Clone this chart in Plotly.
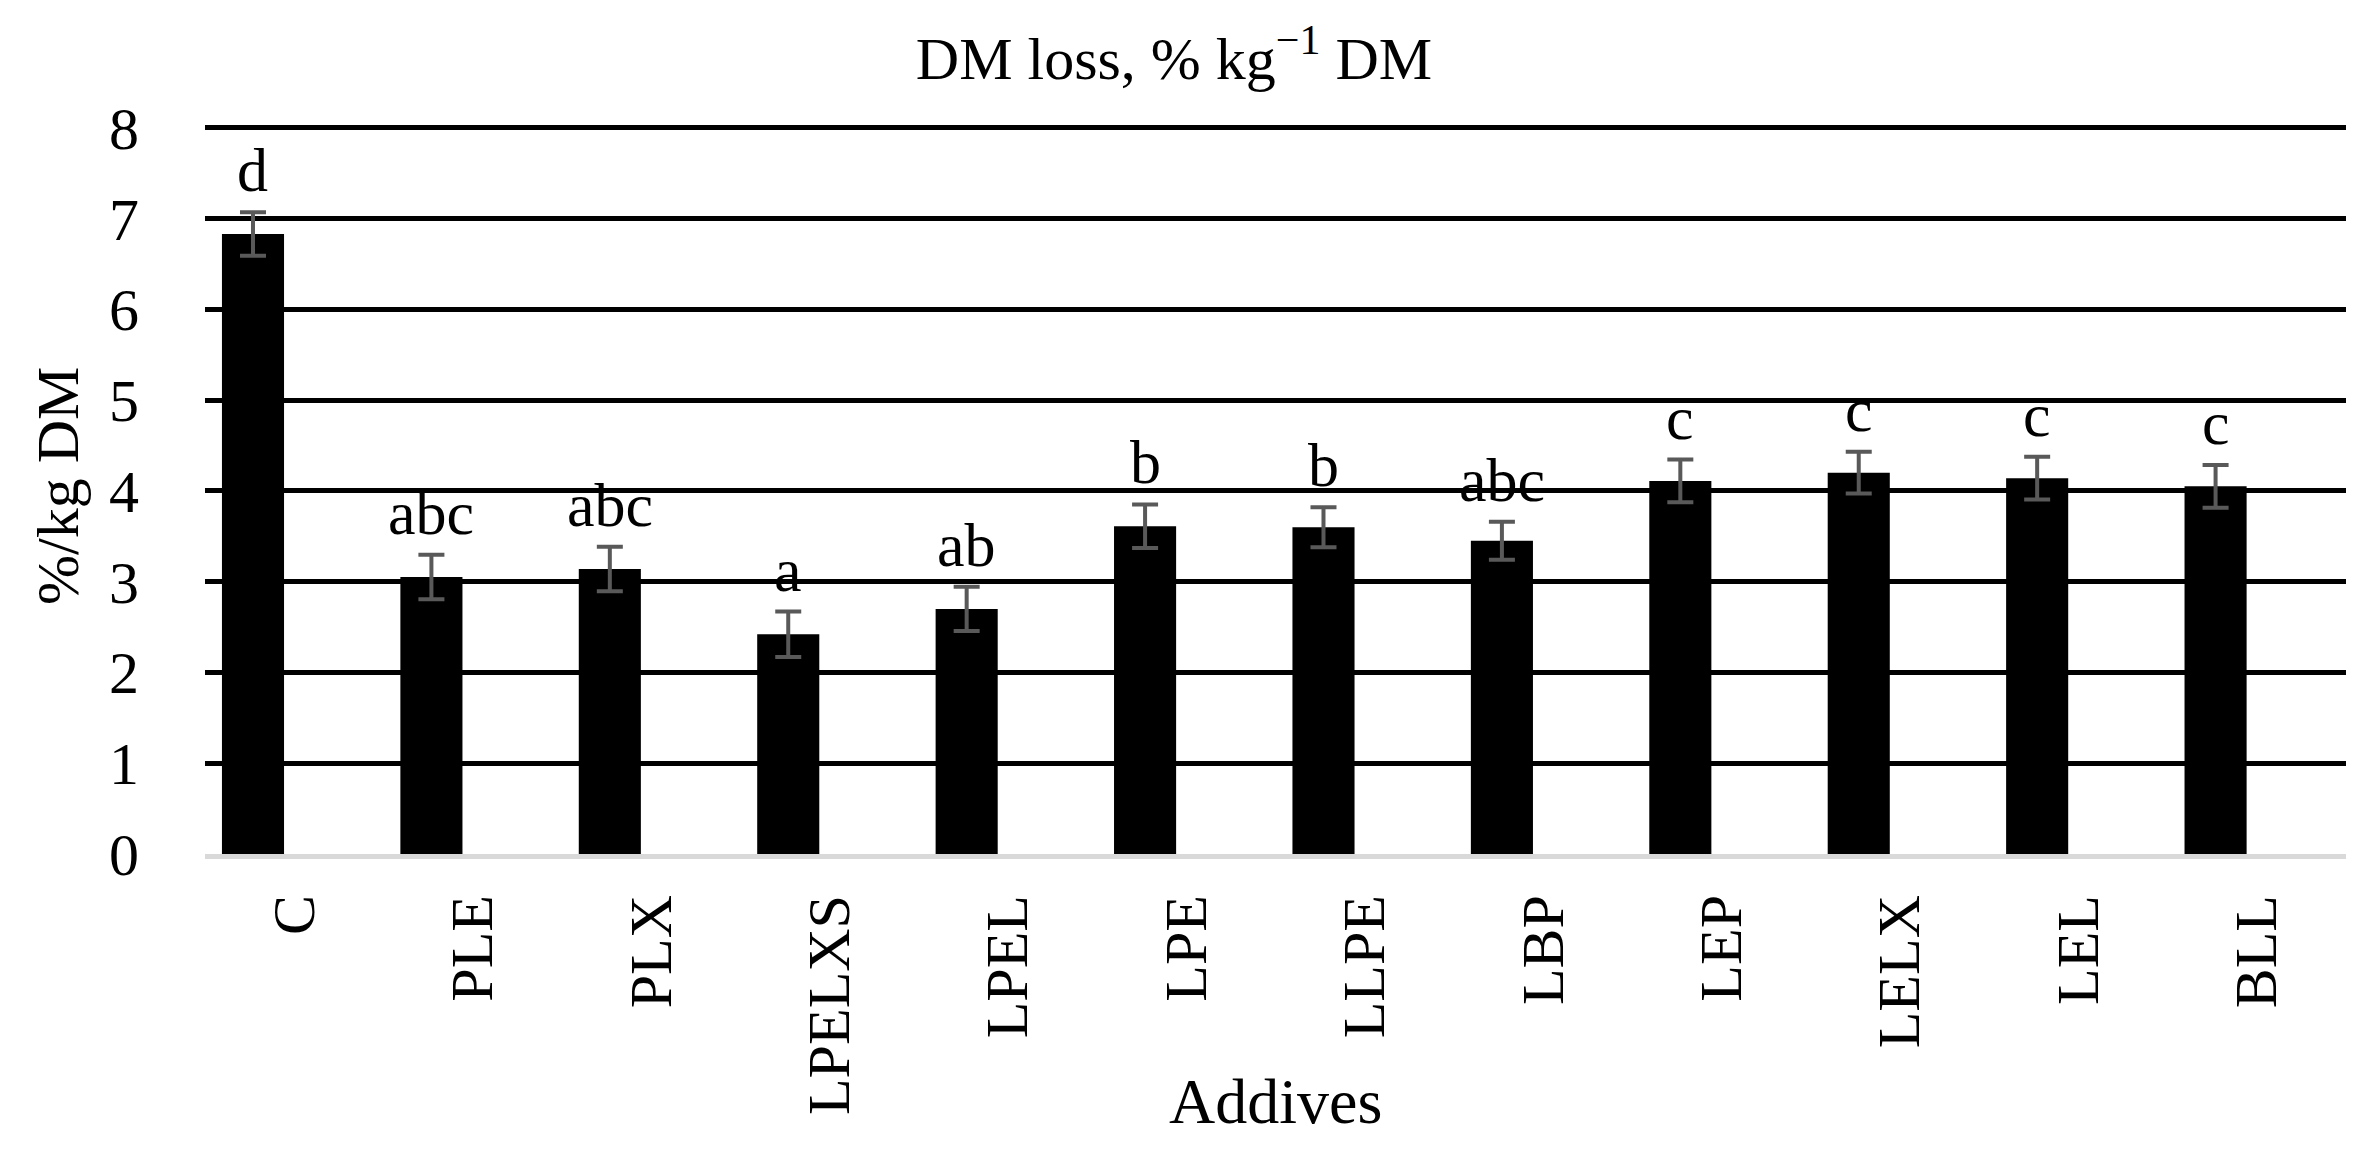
import plotly.graph_objects as go

categories = ["C", "PLE", "PLX", "LPELXS", "LPEL", "LPE", "LLPE", "LBP", "LEP", "LELX", "LEL", "BLL"]
dm_loss = [6.83, 3.05, 3.14, 2.42, 2.70, 3.61, 3.60, 3.45, 4.11, 4.20, 4.14, 4.05]
dm_err = [0.24, 0.245, 0.245, 0.25, 0.245, 0.24, 0.22, 0.21, 0.235, 0.23, 0.235, 0.235]
letters = ["d", "abc", "abc", "a", "ab", "b", "b", "abc", "c", "c", "c", "c"]
y_ticks = [0, 1, 2, 3, 4, 5, 6, 7, 8]

W, H = 2370, 1168
px_per_unit = 90.9
y_top = 8.03
L, R = 197, 32
B = 1168 - 846.5
T = 846.5 - y_top * px_per_unit
plot_w = W - L - R
plot_h = H - T - B
cat_px = plot_w / len(categories)
bar_shift = -0.231  # fraction of category
bar_w = 0.348

FONT = "Liberation Serif"

fig = go.Figure()
fig.add_trace(go.Bar(
    x=categories, y=dm_loss,
    marker=dict(color="black", line=dict(width=0)),
    width=bar_w, offset=bar_shift - bar_w / 2,
    error_y=dict(type="data", array=dm_err, visible=True,
                 color="#595959", thickness=4, width=13),
    showlegend=False,
))

annotations = []
for c, v, e, t in zip(categories, dm_loss, dm_err, letters):
    annotations.append(dict(
        x=c, y=v + e, xref="x", yref="y", text=t, showarrow=False,
        xanchor="center", yanchor="bottom", xshift=bar_shift * cat_px, yshift=6,
        font=dict(family=FONT, size=62, color="black"),
    ))

annotations.append(dict(
    text="Addives", xref="paper", yref="paper", x=0.5, y=(T + plot_h - 1094) / plot_h,
    xanchor="center", yanchor="middle", showarrow=False,
    font=dict(family=FONT, size=64, color="black"),
))
annotations.append(dict(
    text="%/kg DM", xref="paper", yref="paper", x=(50 - L) / plot_w,
    y=(T + plot_h - 478) / plot_h,
    xanchor="center", yanchor="middle", showarrow=False, textangle=-90,
    font=dict(family=FONT, size=60, color="black"),
))

fig.update_layout(
    width=W, height=H,
    margin=dict(l=L, r=R, t=T, b=B, autoexpand=False),
    paper_bgcolor="white", plot_bgcolor="white",
    title=dict(text="DM loss, % kg<sup>−1</sup> DM", x=1166 / W, xanchor="center",
               y=1 - 50 / H, yanchor="middle", xref="container", yref="container",
               font=dict(family=FONT, size=60, color="black")),
    annotations=annotations,
)
fig.update_xaxes(
    type="category", range=[-0.5, len(categories) - 0.5],
    tickangle=-90, tickfont=dict(family=FONT, size=60, color="black"),
    showline=True, linecolor="#d9d9d9", linewidth=5,
    showgrid=False, ticks="", ticklabelstandoff=12,
)
fig.update_yaxes(
    range=[0, y_top], tickvals=y_ticks, ticktext=[str(v) for v in y_ticks],
    showgrid=True, gridcolor="black", gridwidth=5,
    zeroline=False, showline=False, ticks="", ticklabelstandoff=65,
    tickfont=dict(family=FONT, size=60, color="black"),
)
fig.write_html("out.html")
